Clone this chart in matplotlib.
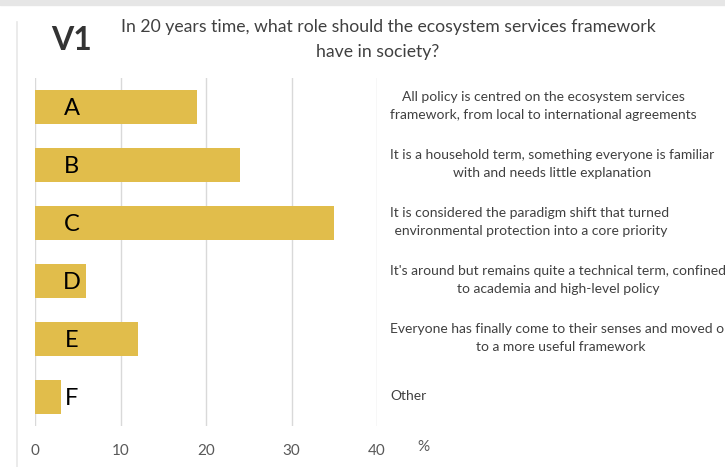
import matplotlib.pyplot as plt
import matplotlib.transforms as mtransforms
from matplotlib.patches import Rectangle
from matplotlib.lines import Line2D

letters = ['A', 'B', 'C', 'D', 'E', 'F']
percent = [19, 24, 35, 6, 12, 3]
answers = [
    'All policy is centred on the ecosystem services\nframework, from local to international agreements',
    'It is a household term, something everyone is familiar\nwith and needs little explanation',
    'It is considered the paradigm shift that turned\n environmental protection into a core priority',
    "It's around but remains quite a technical term, confined\nto academia and high-level policy",
    'Everyone has finally come to their senses and moved on\nto a more useful framework',
    'Other',
]
ticks = [0, 10, 20, 30, 40]

plt.rcParams['font.family'] = ['Lato', 'DejaVu Sans']

W, H = 725, 467
fig = plt.figure(figsize=(W / 100, H / 100), dpi=100)
fig.patch.set_facecolor('white')

# card edges of the screenshot
fig.patches.append(Rectangle((0, 1 - 5 / H), 1, 5 / H, transform=fig.transFigure,
                             color='#e6e6e6', zorder=0))
fig.lines.append(Line2D([17 / W, 17 / W], [0, 1 - 22 / H], transform=fig.transFigure,
                        color='#e8e8e8', lw=1.2))

ax = fig.add_axes([35 / W, 41 / H, 342 / W, 348 / H])
y = list(range(len(letters)))
ax.barh(y, percent, height=0.57, color='#E1BD4B', zorder=2)
ax.set_ylim(5.5, -0.5)
ax.set_xlim(0, 40)
ax.set_xticks(ticks)
ax.set_yticks([])
ax.grid(axis='x', color='#d9d9d9', lw=1, zorder=0)
ax.tick_params(axis='x', length=0, pad=13, labelsize=11, labelcolor='#595959')
for s in ax.spines.values():
    s.set_visible(False)

for i, l in enumerate(letters):
    ax.text(4.3, i + 0.03, l, ha='center', va='center', fontsize=17, color='black', zorder=3)

trans = mtransforms.blended_transform_factory(fig.transFigure, ax.transData)
for i, t in enumerate(answers):
    ax.text(390 / W, i - 0.02, t, transform=trans, ha='left', va='center',
            multialignment='center', fontsize=10, color='#404040', linespacing=1.55,
            clip_on=False)

fig.text(423 / W, 20 / H, '%', ha='center', va='center', fontsize=11, color='#595959')

fig.text(51 / W, 1 - 41 / H, 'V1', ha='left', va='center', fontsize=23,
         fontweight='bold', color='#333333')
fig.text(388 / W, 1 - 27 / H, 'In 20 years time, what role should the ecosystem services framework',
         ha='center', va='center', fontsize=12.7, color='#404040')
fig.text(378 / W, 1 - 52 / H, 'have in society?', ha='center', va='center',
         fontsize=12.7, color='#404040')

plt.savefig('out.png', dpi=100)
